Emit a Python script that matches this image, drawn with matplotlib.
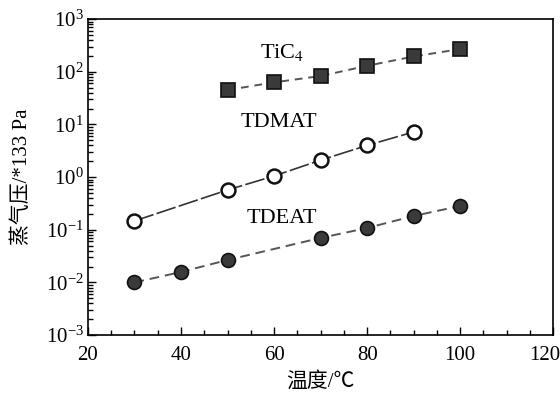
import matplotlib
matplotlib.use("Agg")
import matplotlib.pyplot as plt
from matplotlib.ticker import LogLocator, MultipleLocator, NullFormatter, LogFormatterMathtext

plt.rcParams['font.family'] = ['Liberation Serif', 'Noto Sans CJK SC']
plt.rcParams['mathtext.fontset'] = 'stix'

# Vapour pressure (*133 Pa) versus temperature (°C)
ticl4_t = [50, 60, 70, 80, 90, 100]
ticl4_p = [45, 63, 83, 130, 195, 270]

tdmat_t = [30, 50, 60, 70, 80, 90]
tdmat_p = [0.147, 0.57, 1.05, 2.1, 4.0, 7.2]

tdeat_t = [30, 40, 50, 70, 80, 90, 100]
tdeat_p = [0.0100, 0.0158, 0.0267, 0.070, 0.108, 0.183, 0.283]

x_ticks = [20, 40, 60, 80, 100, 120]
x_tick_labels = ['20', '40', '60', '80', '100', '120']

fig = plt.figure(figsize=(5.6, 3.98), dpi=100)
ax = fig.add_axes([0.157, 0.158, 0.831, 0.794])

mk = dict(color='#555555', markeredgecolor='#111111', markerfacecolor='#3a3a3a',
          markersize=10, markeredgewidth=1.2, linewidth=1.4)
ax.plot(ticl4_t, ticl4_p, marker='s', linestyle=(0, (4, 3)), **mk)
ax.plot(tdeat_t, tdeat_p, marker='o', linestyle=(0, (5, 3)), **mk)
ax.plot(tdmat_t, tdmat_p, marker='o', linestyle=(0, (12, 2)), color='#333333',
        markeredgecolor='#111111', markerfacecolor='white', markersize=10,
        markeredgewidth=1.8, linewidth=1.2)

ax.set_yscale('log')
ax.set_xlim(20, 120)
ax.set_ylim(1e-3, 1e3)
# the last label is drawn separately, nudged left so it stays inside the figure
ax.set_xticks(x_ticks)
ax.set_xticklabels(x_tick_labels[:-1] + [''])
ax.annotate(x_tick_labels[-1], xy=(x_ticks[-1], 0),
            xycoords=ax.get_xaxis_transform(), xytext=(-6, -8),
            textcoords='offset points', ha='center', va='top', fontsize=15)
ax.xaxis.set_minor_locator(MultipleLocator(5))
ax.yaxis.set_major_locator(LogLocator(base=10, numticks=10))
ax.yaxis.set_major_formatter(LogFormatterMathtext())
ax.yaxis.set_minor_locator(LogLocator(base=10, subs=range(2, 10), numticks=20))
ax.yaxis.set_minor_formatter(NullFormatter())

ax.tick_params(axis='both', which='both', direction='in', top=False, right=False,
               width=1.0)
ax.tick_params(axis='x', which='major', labelsize=15)
ax.tick_params(axis='y', which='major', labelsize=15)
ax.tick_params(axis='both', which='major', length=6)
ax.tick_params(axis='both', which='minor', length=3.5)
ax.tick_params(axis='x', which='major', pad=8)
ax.tick_params(axis='y', which='major', pad=3)
for s in ax.spines.values():
    s.set_linewidth(1.2)

ax.text(56.9, 182, 'TiC$_4$', fontsize=16, va='baseline')
ax.text(52.9, 8.9, 'TDMAT', fontsize=16, va='baseline')
ax.text(54.1, 0.135, 'TDEAT', fontsize=16, va='baseline')

ax.set_xlabel('温度/℃', fontsize=15, labelpad=5)
ax.set_ylabel('蒸气压/*133 Pa', fontsize=15, labelpad=10)

fig.savefig('out.png', dpi=100)
